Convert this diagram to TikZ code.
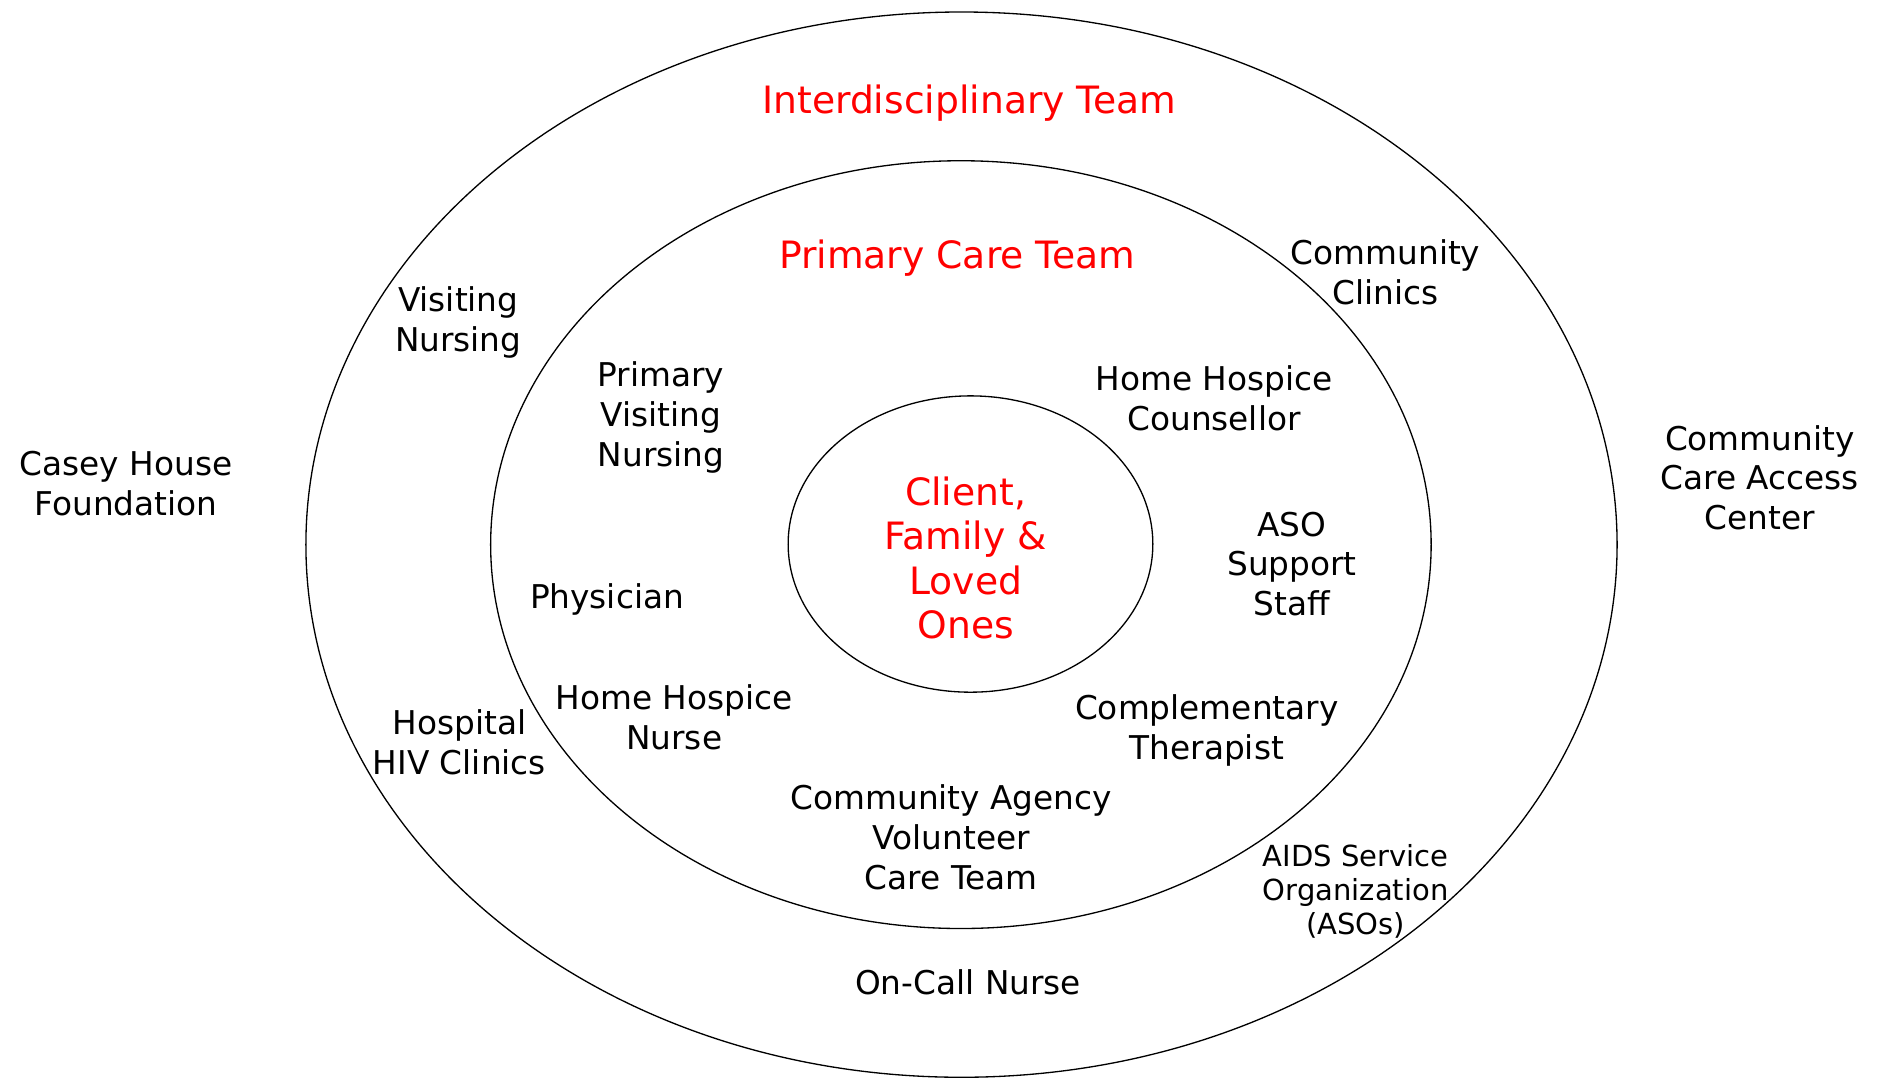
\documentclass[tikz,border=0pt]{standalone}
\usepackage{fontspec}
\setmainfont{DejaVu Sans}
\usetikzlibrary{shapes.geometric}
\definecolor{tred}{RGB}{255,0,0}
\tikzset{
  ring/.style={draw=black, line width=1.1pt, ellipse, inner sep=0pt},
  lbl/.style={align=center, inner sep=0pt, font=\fontsize{27.3}{33}\selectfont},
  redlbl/.style={align=center, inner sep=0pt, text=tred, font=\fontsize{31.4}{37}\selectfont},
  smalllbl/.style={align=center, inner sep=0pt, font=\fontsize{24.2}{28}\selectfont}
}
\begin{document}
\begin{tikzpicture}[x=1pt,y=-1pt]
\useasboundingbox (0,0) rectangle (1568,899);
\node[ring, minimum width=1093pt, minimum height=888pt] (outer) at (801.5,454) {};
\node[ring, minimum width=784pt, minimum height=640pt] (middle) at (801,454) {};
\node[ring, minimum width=304pt, minimum height=247pt] (inner) at (809,453.5) {};

\node[redlbl] (idt) at (808,86) {Interdisciplinary Team};
\node[redlbl] (pct) at (798,215) {Primary Care Team};
\node[redlbl] (client) at (805,465) {Client,\\Family \&\\Loved\\Ones};

\node[lbl] (cc) at (1155,227) {Community\\Clinics};
\node[lbl] (vn) at (382,269) {Visiting\\Nursing};
\node[lbl] (chf) at (105,403) {Casey House\\Foundation};
\node[lbl] (ccac) at (1467,398) {Community\\Care Access\\Center};
\node[lbl] (pvn) at (551,348) {Primary\\Visiting\\Nursing};
\node[lbl] (hhc) at (1012,332) {Home Hospice\\Counsellor};
\node[lbl] (aso) at (1077,470) {ASO\\Support\\Staff};
\node[lbl] (phys) at (506,500) {Physician};
\node[lbl] (hhn) at (562,598) {Home Hospice\\Nurse};
\node[lbl] (hosp) at (383,619) {Hospital\\HIV Clinics};
\node[lbl] (comp) at (1006,609) {Complementary\\Therapist};
\node[lbl] (cavc) at (793,698) {Community Agency\\Volunteer\\Care Team};
\node[smalllbl] (asos) at (1130,743) {AIDS Service\\Organization\\(ASOs)};
\node[lbl] (ocn) at (807,819) {On-Call Nurse};
\end{tikzpicture}
\end{document}
